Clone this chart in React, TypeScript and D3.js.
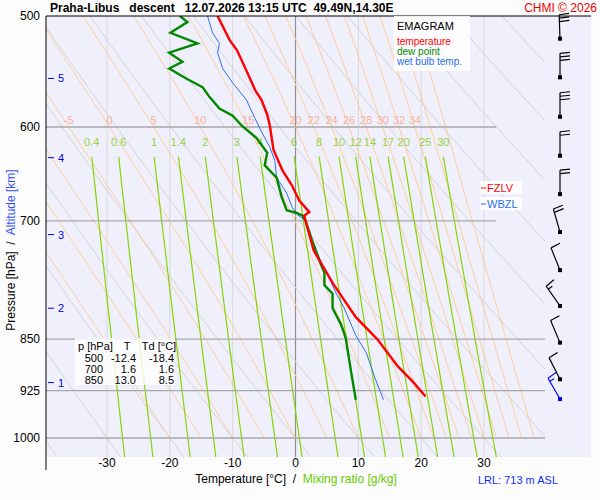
import React from "react";
import * as d3 from "d3";

// sounding: pressure [hPa] and temperature [°C]
const tempP = [500, 520, 529, 547, 565, 574, 588, 598, 623, 644, 660, 677, 690, 694, 700, 735, 775, 820, 850, 889, 912, 934];
const tempT = [-12.4, -10.5, -9.3, -7.8, -6.4, -5.4, -4.5, -4.1, -3.5, -2.1, -0.6, 0.6, 2.2, 1.4, 1.6, 2.9, 5.9, 9.6, 13.0, 16.3, 18.7, 20.7];
const dewP = [500, 505, 514, 523, 531, 539, 545, 554, 562, 571, 582, 589, 599, 611, 626, 639, 652, 673, 688, 691, 694, 700, 722, 753, 762, 778, 789, 808, 829, 841, 849, 866, 900, 939];
const dewT = [-18.4, -17.2, -19.9, -15.6, -20.1, -18.0, -20.1, -17.4, -14.8, -13.7, -12.1, -10.0, -8.5, -6.2, -4.5, -4.9, -3.0, -2.2, -1.4, 0.2, 1.1, 1.6, 2.6, 4.1, 4.6, 4.6, 5.9, 5.9, 7.2, 7.7, 8.0, 8.3, 8.9, 9.6];
const wbP = [500, 514, 523, 531, 545, 558, 574, 591, 606, 620, 634, 652, 669, 685, 693, 700, 735, 768, 789, 807, 845, 870, 905, 939];
const wbT = [-14.0, -13.2, -12.1, -12.4, -11.6, -10.0, -7.8, -6.5, -5.3, -4.1, -3.3, -3.0, -1.4, -0.5, 0.3, 1.6, 3.2, 5.3, 6.5, 7.7, 9.6, 11.3, 12.6, 14.0];

const pressureTicks = [500, 600, 700, 850, 925, 1000];
const tempTicks = [-30, -20, -10, 0, 10, 20, 30];
const isotherms = [-40, -30, -20, -10, 0, 10, 20, 30, 40];
const altKm = [5, 4, 3, 2, 1];
const altP = [554, 631, 716, 808, 913];
const thetaW = [-20, -15, -10, -5, 0, 5, 10, 15, 20, 22, 24, 26, 28, 30, 32, 34, 36, 38];
const thetaWLabels = [-5, 0, 5, 10, 15, 20, 22, 24, 26, 28, 30, 32, 34];
const mixRatios = [0.4, 0.6, 1, 1.4, 2, 3, 4, 6, 8, 10, 12, 14, 17, 20, 25, 30];
const dryTheta = d3.range(-60, 130, 10);

// wind barbs
const windP = [519, 553, 590, 629, 670, 713, 759, 805, 855, 908, 938];
const windDir = [358, 0, 0, 0, 0, 344, 338, 325, 337, 333, 330];
const windKt = [30, 30, 30, 20, 20, 20, 10, 15, 10, 10, 15];

const tableRows = [
  ["500", "-12.4", "-18.4"],
  ["700", "1.6", "1.6"],
  ["850", "13.0", "8.5"],
];

const FONT = "'Liberation Sans', Arial, sans-serif";
const x = d3.scaleLinear().domain([-30, 30]).range([107, 484]);
const y = d3.scaleLog().domain([500, 1000]).range([16, 438]);
const L = 46, R = 545, T0 = 16, B = 457;

const es = (t: number) => 6.112 * Math.exp((17.67 * t) / (t + 243.5));

function moist(tw: number): [number, number][] {
  const pts: [number, number][] = [];
  let t = tw + 273.15;
  for (let p = 1000; p >= 480; p -= 5) {
    pts.push([p, t - 273.15]);
    const rs = (0.622 * es(t - 273.15)) / (p - es(t - 273.15));
    const dTdp = ((287 * t + 2.5e6 * rs) / (1004 + (2.5e6 * 2.5e6 * rs * 0.622) / (287 * t * t))) / p;
    t -= dTdp * 5;
  }
  return pts;
}
function mixLine(w: number): [number, number][] {
  return [630, 700, 800, 900, 1000, 1040].map((p) => {
    const lnr = Math.log((w * p) / (622 + w) / 6.112);
    return [p, (243.5 * lnr) / (17.67 - lnr)];
  });
}
const pl = d3.line<[number, number]>().x((d) => x(d[1])).y((d) => y(d[0]));
const prof = (ps: number[], ts: number[]) => pl(ps.map((p, i) => [p, ts[i]] as [number, number])) || "";

function Barb({ p, dir, kt, color }: { p: number; dir: number; kt: number; color: string }) {
  const bx = 560, by = y(p);
  const a = (dir * Math.PI) / 180;
  const ux = Math.sin(a), uy = -Math.cos(a);
  const len = 24;
  const tx = bx + ux * len, ty = by + uy * len;
  const px = -uy, py = ux; // right-hand perpendicular
  const lines = [];
  const n = Math.floor(kt / 10), half = kt % 10 >= 5;
  let k = 0;
  for (; k < n; k++) {
    const sx = tx - ux * k * 3.5, sy = ty - uy * k * 3.5;
    lines.push(<line key={k} x1={sx} y1={sy} x2={sx + px * 10 + ux * 1} y2={sy + py * 10 + uy * 1} />);
  }
  if (half) {
    const sx = tx - ux * k * 3.5, sy = ty - uy * k * 3.5;
    lines.push(<line key="h" x1={sx} y1={sy} x2={sx + px * 5} y2={sy + py * 5} />);
  }
  return (
    <g stroke={color} strokeWidth={1.2} fill={color}>
      <line x1={bx} y1={by} x2={tx} y2={ty} />
      {lines}
      <rect x={bx - 2} y={by - 2} width={4} height={4} stroke="none" />
    </g>
  );
}

export default function App() {
  return (
    <svg width={600} height={500} style={{ position: "absolute", left: 0, top: 0, background: "#fcfcfc" }} fontFamily={FONT}>
      <defs>
        <clipPath id="plot"><rect x={L} y={T0} width={R - L} height={B - T0} /></clipPath>
      </defs>
      <rect x={L} y={T0} width={591 - L} height={B - T0} fill="#f0f0fc" />
      <g clipPath="url(#plot)" fill="none">
        {isotherms.map((t) => (
          <line key={t} x1={x(t)} x2={x(t)} y1={T0} y2={B} stroke={t === 0 ? "#909090" : "#d8d8d8"} strokeWidth={t === 0 ? 1.2 : 1} />
        ))}
        {dryTheta.map((th) => (
          <path key={th} stroke="#d4d4d4" d={pl(d3.range(480, 1050, 10).map((p) => [p, (th + 273.15) * Math.pow(p / 1000, 0.286) - 273.15] as [number, number])) || ""} />
        ))}
        {thetaW.map((tw) => <path key={tw} stroke="#ffc890" strokeWidth={0.9} d={pl(moist(tw)) || ""} />)}
        {mixRatios.map((w) => <path key={w} stroke="#86d400" strokeWidth={1.2} d={pl(mixLine(w)) || ""} />)}
      </g>
      {pressureTicks.slice(1).map((p) => (
        <line key={p} x1={L} x2={p <= 700 ? 496 : R} y1={y(p)} y2={y(p)} stroke="#a8a8a8" strokeWidth={1.3} />
      ))}
      {thetaWLabels.map((tw) => {
        const m = moist(tw).find((d) => d[0] === 600)!;
        return <text key={tw} x={x(m[1])} y={124} fontSize={11} fill="#f8b0a0" textAnchor="middle">{tw}</text>;
      })}
      {mixRatios.map((w) => (
        <text key={w} x={x(mixLine(w)[0][1])} y={146} fontSize={11} fill="#98d040" textAnchor="middle">{w}</text>
      ))}
      {/* profiles */}
      <g fill="none" clipPath="url(#plot)">
        <path d={prof(wbP, wbT)} stroke="#2a6ef0" strokeWidth={1} />
        <path d={prof(dewP, dewT)} stroke="#008800" strokeWidth={2.4} />
        <path d={prof(tempP, tempT)} stroke="#ff0000" strokeWidth={2.4} />
      </g>
      {/* frame */}
      <line x1={L} x2={591} y1={T0} y2={T0} stroke="#000" />
      <line x1={L} x2={L} y1={T0} y2={470} stroke="#000" />
      {/* pressure labels */}
      {pressureTicks.map((p) => (
        <text key={p} x={40} y={y(p) + 4} fontSize={12} textAnchor="end">{p}</text>
      ))}
      {altKm.map((k, i) => (
        <g key={k} fill="#0000ee" stroke="#0000ee">
          <line x1={48} x2={54} y1={y(altP[i])} y2={y(altP[i])} />
          <text x={58} y={y(altP[i]) + 4} fontSize={11} stroke="none">{k}</text>
        </g>
      ))}
      <text transform="translate(15,250) rotate(-90)" fontSize={12} textAnchor="middle" xmlSpace="preserve">
        Pressure [hPa]  /  <tspan fill="#3050ff">Altitude [km]</tspan>
      </text>
      {tempTicks.map((t) => (
        <text key={t} x={x(t)} y={467} fontSize={12} textAnchor="middle">{t}</text>
      ))}
      <text x={296} y={483} fontSize={12} textAnchor="middle" xmlSpace="preserve">
        Temperature [°C]  /  <tspan fill="#66cc00">Mixing ratio [g/kg]</tspan>
      </text>
      <text x={558} y={484} fontSize={11} fill="#1030ff" textAnchor="end">LRL: 713 m ASL</text>
      {/* title */}
      <text x={50} y={12} fontSize={12} fontWeight="bold" xmlSpace="preserve">Praha-Libus   descent   12.07.2026 13:15 UTC  49.49N,14.30E</text>
      <text x={597} y={12} fontSize={12} fill="#ee0000" textAnchor="end">CHMI © 2026</text>
      {/* legend */}
      <rect x={394} y={16} width={76} height={55} fill="#fff" opacity={0.85} />
      <text x={397} y={30} fontSize={11}>EMAGRAM</text>
      <text x={397} y={45} fontSize={10} fill="#ff0000">temperature</text>
      <text x={397} y={55} fontSize={10} fill="#008800">dew point</text>
      <text x={397} y={65} fontSize={10} fill="#2a6ef0">wet bulb temp.</text>
      {/* freezing levels */}
      <rect x={480} y={181} width={42} height={13} fill="#fff" opacity={0.85} />
      <line x1={481} x2={486} y1={188} y2={188} stroke="#ff0000" />
      <text x={487} y={192} fontSize={11} fill="#ff0000">FZLV</text>
      <rect x={480} y={197} width={42} height={13} fill="#fff" opacity={0.85} />
      <line x1={481} x2={486} y1={204} y2={204} stroke="#2a6ef0" />
      <text x={487} y={208} fontSize={11} fill="#2a6ef0">WBZL</text>
      {/* table */}
      <rect x={75} y={338} width={100} height={47} fill="#fff" opacity={0.8} />
      <text x={78} y={350} fontSize={11}>p [hPa]</text>
      <text x={127} y={350} fontSize={11} textAnchor="middle">T</text>
      <text x={159} y={350} fontSize={11} textAnchor="middle">Td [°C]</text>
      {tableRows.map((r, i) => (
        <g key={r[0]} fontSize={11}>
          <text x={103} y={362 + i * 11} textAnchor="end">{r[0]}</text>
          <text x={136} y={362 + i * 11} textAnchor="end">{r[1]}</text>
          <text x={174} y={362 + i * 11} textAnchor="end">{r[2]}</text>
        </g>
      ))}
      {windP.map((p, i) => (
        <Barb key={p} p={p} dir={windDir[i]} kt={windKt[i]} color={i === windP.length - 1 ? "#0000ee" : "#000"} />
      ))}
    </svg>
  );
}
